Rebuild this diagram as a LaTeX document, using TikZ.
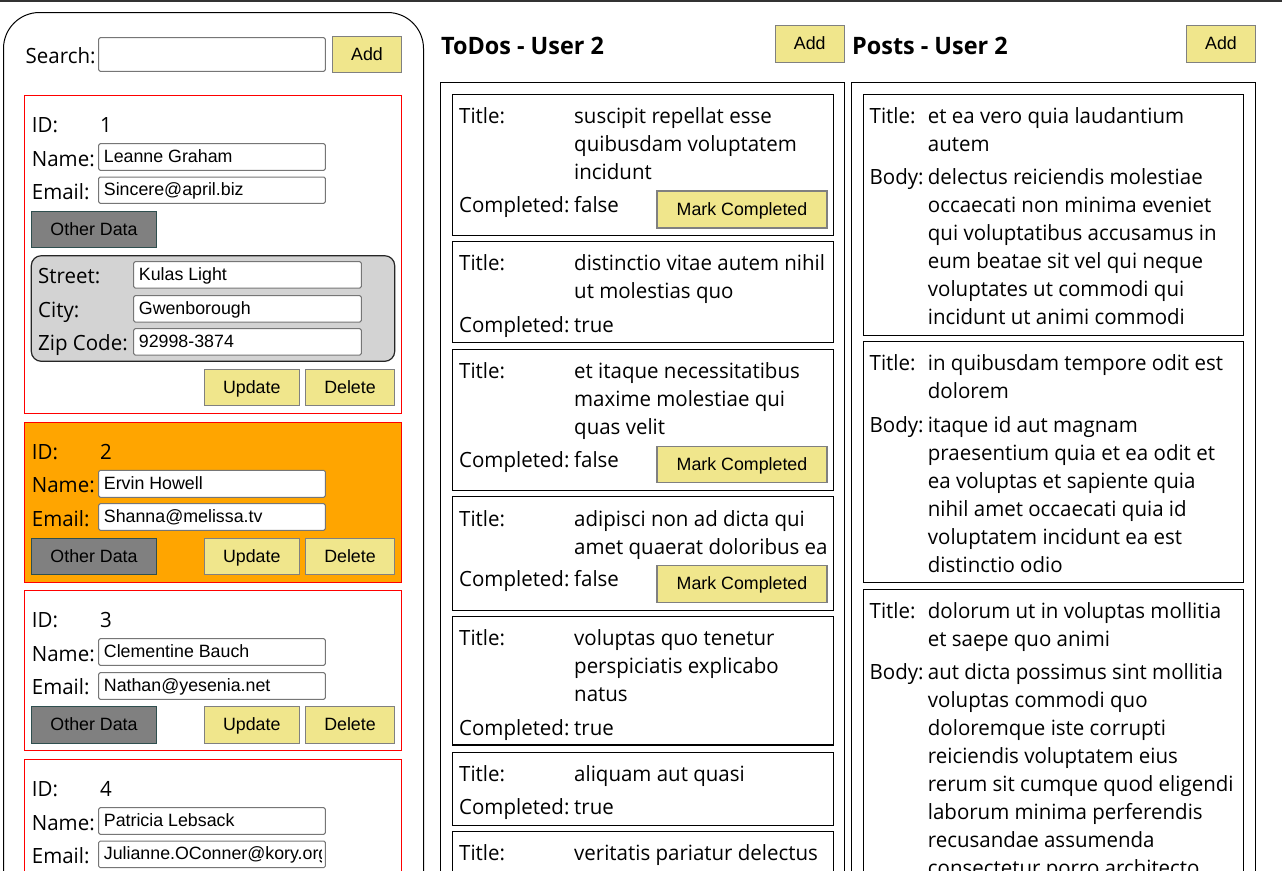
\documentclass[tikz,border=0pt]{standalone}
\usepackage{fontspec}
\setmainfont{Open Sans}[FakeStretch=0.975]
\newfontfamily\arialf{Liberation Sans}
\usetikzlibrary{fit}
\definecolor{khaki}{HTML}{F0E68C}
\definecolor{inpgray}{HTML}{767676}
\definecolor{btngray}{HTML}{808080}
\definecolor{slate}{HTML}{2F4F4F}
\definecolor{lgray}{HTML}{D3D3D3}
\definecolor{orng}{HTML}{FFA500}
\definecolor{topline}{HTML}{333333}
\tikzset{
  txt/.style={anchor=base west, inner sep=0pt, font=\fontsize{21}{28}\selectfont},
  hdr/.style={anchor=base west, inner sep=0pt, font=\fontsize{24}{30}\selectfont\bfseries},
  intxt/.style={anchor=base west, inner sep=0pt, font=\arialf\fontsize{17.8}{20}\selectfont},
  btntxt/.style={anchor=base, inner sep=0pt, font=\arialf\fontsize{17.8}{20}\selectfont},
  inbox/.style={draw=inpgray, fill=white, line width=1pt, rounded corners=1.5pt},
  khbtn/.style={draw=btngray, fill=khaki, line width=1.2pt},
  grbtn/.style={draw=slate, fill=btngray, line width=1.2pt},
  card/.style={draw=red, line width=1pt},
  ocard/.style={draw=red, fill=orng, line width=1pt},
  addr/.style={draw=black!85, fill=lgray, line width=1.2pt, rounded corners=10pt},
  item/.style={draw=black, line width=1.3pt},
  outer/.style={draw=black, line width=1.3pt},
}
% box node from corner (x1,y1) to (x2,y2)
\newcommand\bx[6]{\path (#3,#4) coordinate (#2-nw) (#5,#6) coordinate (#2-se);
  \node[#1, fit=(#2-nw)(#2-se), inner sep=0pt] (#2) {};}
% button with centred label
\newcommand\btn[7]{\bx{#1}{#2}{#3}{#4}{#5}{#6}
  \node[btntxt] (#2-t) at ([yshift=-6pt]#2.center) {#7};}
% input field with text (clipped at its padding)
\newcommand\fld[6]{\bx{inbox}{#1}{#2}{#3}{#4}{#5}
  \begin{scope}\clip (#2,#3) rectangle (#4-3.5,#5);
  \node[intxt] (#1-t) at (#2+5,#5-8) {#6};\end{scope}}
% several lines of text, 28 apart
\newcommand\ml[4]{\foreach \ln [count=\k from 0] in {#4} {\node[txt] (#1\k) at (#2,#3+28*\k) {\ln};}}
\begin{document}
\begin{tikzpicture}[x=1pt,y=-1pt]
\useasboundingbox (0,0) rectangle (1282,870);
\clip (0,0) rectangle (1282,870);
\fill[white] (0,0) rectangle (1282,870);
\draw[topline, line width=1.6pt] (0,0.8) -- (1282,0.8);

% ---------------- left panel ----------------
\draw[line width=1pt, rounded corners=36pt] (3.5,950) -- (3.5,12.5) -- (423.5,12.5) -- (423.5,950);
\node[txt] (search) at (25.5,63.3) {Search:};
\fld{sbox}{98.7}{37.7}{325.3}{71.3}{}
\btn{khbtn}{uadd}{332.3}{36.3}{401.7}{72.3}{Add}

% card 1
\bx{card}{c1}{24.3}{95.7}{401.7}{413.3}
\node[txt] (id1l) at (31.7,132.3) {ID:};
\node[txt] (id1) at (100,132.3) {1};
\node[txt] (n1l) at (31.7,166) {Name:};
\fld{n1}{98.7}{143.7}{325.3}{170.3}{Leanne Graham}
\node[txt] (e1l) at (31.7,199) {Email:};
\fld{e1}{98.7}{177}{325.3}{203.3}{Sincere@april.biz}
\btn{grbtn}{od1}{31.3}{211.3}{156.7}{247.7}{Other Data}
\bx{addr}{adr}{31.3}{255.7}{394.7}{361.3}
\node[txt] (stl) at (38,283.7) {Street:};
\fld{st}{133.7}{261.7}{361.3}{288}{Kulas Light}
\node[txt] (cil) at (38,317) {City:};
\fld{ci}{133.7}{295.7}{361.3}{322}{Gwenborough}
\node[txt] (zpl) at (38,350) {Zip Code:};
\fld{zp}{133.7}{328.7}{361.3}{355}{92998-3874}
\btn{khbtn}{up1}{204.3}{369.3}{299.3}{405.3}{Update}
\btn{khbtn}{dl1}{305.3}{369.3}{394.7}{405.3}{Delete}

% card 2 (selected)
\bx{ocard}{c2}{24.3}{422.3}{401.7}{582.3}
\node[txt] (id2l) at (31.7,459) {ID:};
\node[txt] (id2) at (100,459) {2};
\node[txt] (n2l) at (31.7,492.7) {Name:};
\fld{n2}{98.7}{470.3}{325.3}{497.3}{Ervin Howell}
\node[txt] (e2l) at (31.7,526) {Email:};
\fld{e2}{98.7}{503.7}{325.3}{530.3}{Shanna@melissa.tv}
\btn{grbtn}{od2}{31.3}{538.3}{156.7}{574.7}{Other Data}
\btn{khbtn}{up2}{204.3}{538.3}{299.3}{574.7}{Update}
\btn{khbtn}{dl2}{305.3}{538.3}{394.7}{574.7}{Delete}

% card 3
\bx{card}{c3}{24.3}{590.3}{401.7}{750.3}
\node[txt] (id3l) at (31.7,627.5) {ID:};
\node[txt] (id3) at (100,627.5) {3};
\node[txt] (n3l) at (31.7,661) {Name:};
\fld{n3}{98.7}{638.7}{325.3}{665.3}{Clementine Bauch}
\node[txt] (e3l) at (31.7,694.5) {Email:};
\fld{e3}{98.7}{672.7}{325.3}{699.3}{Nathan@yesenia.net}
\btn{grbtn}{od3}{31.3}{706.3}{156.7}{743.3}{Other Data}
\btn{khbtn}{up3}{204.3}{706.3}{299.3}{743.3}{Update}
\btn{khbtn}{dl3}{305.3}{706.3}{394.7}{743.3}{Delete}

% card 4
\bx{card}{c4}{24.3}{759.7}{401.7}{950}
\node[txt] (id4l) at (31.7,796.7) {ID:};
\node[txt] (id4) at (100,796.7) {4};
\node[txt] (n4l) at (31.7,830.1) {Name:};
\fld{n4}{98.7}{807.7}{325.3}{834.3}{Patricia Lebsack}
\node[txt] (e4l) at (31.7,863.5) {Email:};
\fld{e4}{98.7}{841}{325.3}{867.7}{Julianne.OConner@kory.org}

% ---------------- todos ----------------
\node[hdr] (todoh) at (441,54) {ToDos - User 2};
\btn{khbtn}{tadd}{775.3}{25.3}{844.3}{62.3}{Add}
\bx{outer}{tbox}{440.7}{82.3}{844.3}{950}

\bx{item}{i1}{452.3}{94.7}{833.7}{235.3}
\node[txt] (i1tl) at (459,123.3) {Title:};
\ml{i1t}{574}{123.3}{suscipit repellat esse,quibusdam voluptatem,incidunt}
\node[txt] (i1cl) at (459,212) {Completed:};
\node[txt] (i1c) at (574,212) {false};
\btn{khbtn}{mc1}{657}{191}{827}{228}{Mark Completed}

\bx{item}{i2}{452.3}{241.3}{833.7}{342.3}
\node[txt] (i2tl) at (459,270.5) {Title:};
\ml{i2t}{574}{270.5}{distinctio vitae autem nihil,ut molestias quo}
\node[txt] (i2cl) at (459,332.5) {Completed:};
\node[txt] (i2c) at (574,332.5) {true};

\bx{item}{i3}{452.3}{349.3}{833.7}{490.3}
\node[txt] (i3tl) at (459,378.3) {Title:};
\ml{i3t}{574}{378.3}{et itaque necessitatibus,maxime molestiae qui,quas velit}
\node[txt] (i3cl) at (459,467.3) {Completed:};
\node[txt] (i3c) at (574,467.3) {false};
\btn{khbtn}{mc3}{657}{446.3}{827}{482.3}{Mark Completed}

\bx{item}{i4}{452.3}{496.7}{833.7}{610.3}
\node[txt] (i4tl) at (459,526) {Title:};
\ml{i4t}{574}{526}{adipisci non ad dicta qui,amet quaerat doloribus ea}
\node[txt] (i4cl) at (459,586.7) {Completed:};
\node[txt] (i4c) at (574,586.7) {false};
\btn{khbtn}{mc4}{657}{565.3}{827}{602.3}{Mark Completed}

\bx{item}{i5}{452.3}{616.7}{833.7}{745}
\node[txt] (i5tl) at (459,645.3) {Title:};
\ml{i5t}{574}{645.3}{voluptas quo tenetur,perspiciatis explicabo,natus}
\node[txt] (i5cl) at (459,735) {Completed:};
\node[txt] (i5c) at (574,735) {true};

\bx{item}{i6}{452.3}{752.3}{833.7}{825.3}
\node[txt] (i6tl) at (459,781) {Title:};
\node[txt] (i6t) at (574,781) {aliquam aut quasi};
\node[txt] (i6cl) at (459,814) {Completed:};
\node[txt] (i6c) at (574,814) {true};

\bx{item}{i7}{452.3}{831.7}{833.7}{950}
\node[txt] (i7tl) at (459,860) {Title:};
\node[txt] (i7t) at (574,860) {veritatis pariatur delectus};

% ---------------- posts ----------------
\node[hdr] (posth) at (852,54) {Posts - User 2};
\btn{khbtn}{padd}{1186.3}{25.3}{1255.7}{62.3}{Add}
\bx{outer}{pbox}{851.7}{82.3}{1255.7}{950}

\bx{item}{p1}{863.3}{94.7}{1243.7}{335.3}
\node[txt] (p1tl) at (869.5,123.3) {Title:};
\ml{p1t}{927.7}{123.3}{et ea vero quia laudantium,autem}
\node[txt] (p1bl) at (869.5,184.3) {Body:};
\ml{p1b}{927.7}{184.3}{delectus reiciendis molestiae,occaecati non minima eveniet,qui voluptatibus accusamus in,eum beatae sit vel qui neque,voluptates ut commodi qui,incidunt ut animi commodi}

\bx{item}{p2}{863.3}{341.3}{1243.7}{582.3}
\node[txt] (p2tl) at (869.5,370) {Title:};
\ml{p2t}{927.7}{370}{in quibusdam tempore odit est,dolorem}
\node[txt] (p2bl) at (869.5,432.3) {Body:};
\ml{p2b}{927.7}{432.3}{itaque id aut magnam,praesentium quia et ea odit et,ea voluptas et sapiente quia,nihil amet occaecati quia id,voluptatem incidunt ea est,distinctio odio}

\bx{item}{p3}{863.3}{589.7}{1243.7}{950}
\node[txt] (p3tl) at (869.5,618.3) {Title:};
\ml{p3t}{927.7}{618.3}{dolorum ut in voluptas mollitia,et saepe quo animi}
\node[txt] (p3bl) at (869.5,679) {Body:};
\ml{p3b}{927.7}{679}{aut dicta possimus sint mollitia,voluptas commodi quo,doloremque iste corrupti,reiciendis voluptatem eius,rerum sit cumque quod eligendi,laborum minima perferendis,recusandae assumenda,consectetur porro architecto}
\end{tikzpicture}
\end{document}
